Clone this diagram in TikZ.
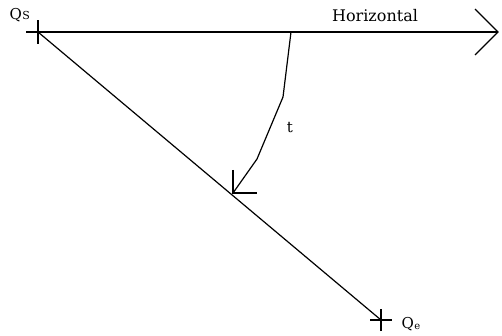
\documentclass[tikz,border=0pt]{standalone}
\usepackage{fontspec}
\setmainfont{DejaVu Serif}
\begin{document}
\begin{tikzpicture}[x=1pt,y=-1pt,line width=1.2pt,
  lbl/.style={font=\fontsize{15}{18}\selectfont,inner sep=0pt},
  tick/.style={line width=1.2pt}]
\useasboundingbox (0,0) rectangle (502,336);
% key points
\coordinate (qs) at (38,32);
\coordinate (qe) at (381,320);
\coordinate (hend) at (498,32);
\coordinate (tstart) at (291,32);
\coordinate (t1) at (283,97);
\coordinate (t2) at (257,159);
\coordinate (ttip) at (233,193);
% horizontal axis
\draw (26,32) -- (hend);
\draw (475,9) -- (hend) -- (475,55);
\node[lbl,anchor=base,font=\fontsize{16}{18}\selectfont] (hl) at (375,22) {Horizontal};
% diagonal
\draw (qs) -- (qe);
% crosses
\draw[tick] ([yshift=-12]qs) -- ([yshift=12]qs);
\draw[tick] ([xshift=-11]qe) -- ([xshift=11]qe) ([yshift=-11]qe) -- ([yshift=11]qe);
% labels Q
\node[lbl,anchor=base west] (qsl) at (9,20) {Q\kern0.5pt{\fontsize{11}{14}\selectfont S}};
\node[lbl,anchor=base west] (qel) at (401,328) {Q\kern0.5pt\raisebox{-1pt}{\fontsize{10}{12}\selectfont e}};
% t curve
\draw (tstart) -- (t1) -- (t2) -- (ttip);
\draw (233,170) -- (ttip) -- (257,193);
\node[lbl,anchor=base] (tl) at (290,133) {t};
\end{tikzpicture}
\end{document}
